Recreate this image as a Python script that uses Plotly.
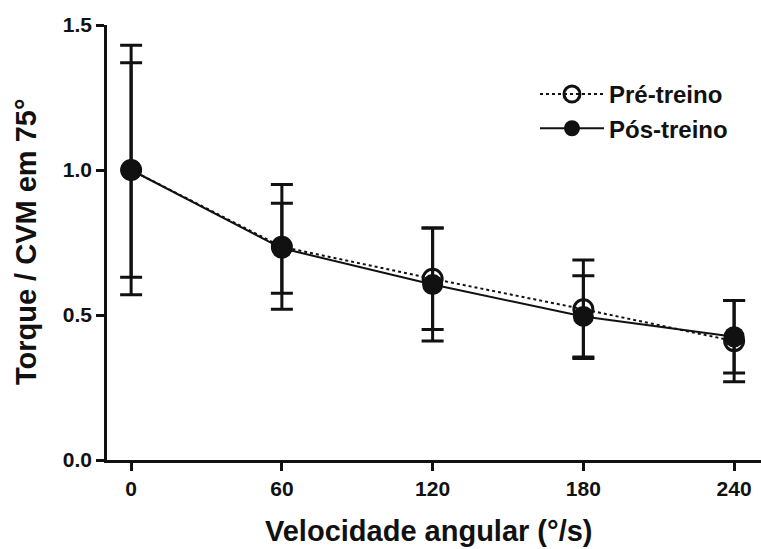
import plotly.graph_objects as go

# Angular velocity (deg/s) and normalised torque (mean ± SD)
speeds = [0, 60, 120, 180, 240]
pre_mean = [1.0, 0.735, 0.625, 0.52, 0.41]
pre_sd = [0.43, 0.215, 0.175, 0.17, 0.14]
post_mean = [1.0, 0.73, 0.605, 0.495, 0.425]
post_sd = [0.37, 0.155, 0.195, 0.14, 0.125]

INK = "#111111"
FONT = "Liberation Sans"

fig = go.Figure()

fig.add_trace(go.Scatter(
    x=speeds, y=pre_mean, name="Pré-treino",
    mode="lines+markers",
    line=dict(color=INK, width=2, dash="dot"),
    marker=dict(symbol="circle-open", size=19, color=INK, line=dict(width=3, color=INK)),
    error_y=dict(type="data", array=pre_sd, visible=True, color=INK, thickness=3, width=11),
))
fig.add_trace(go.Scatter(
    x=speeds, y=post_mean, name="Pós-treino",
    mode="lines+markers",
    line=dict(color=INK, width=2),
    marker=dict(symbol="circle", size=21, color=INK),
    error_y=dict(type="data", array=post_sd, visible=True, color=INK, thickness=3, width=11),
))

fig.update_layout(
    width=761, height=549,
    margin=dict(l=107, r=0, t=25, b=89),
    paper_bgcolor="white", plot_bgcolor="white",
    font=dict(family=FONT, color=INK),
    showlegend=True,
    legend=dict(
        x=0.6544, y=0.892, xanchor="left", yanchor="top",
        font=dict(family=FONT, size=24, color=INK, weight="bold"),
        bgcolor="rgba(0,0,0,0)", tracegroupgap=0, itemwidth=64,
    ),
    xaxis=dict(
        range=[-9.6, 250.7], tickvals=speeds, ticktext=[str(s) for s in speeds],
        showgrid=False, zeroline=False,
        showline=True, linecolor=INK, linewidth=2.5,
        ticks="outside", ticklen=8, tickwidth=2.5, tickcolor=INK,
        tickfont=dict(family=FONT, size=21, color=INK, weight="bold"),
    ),
    yaxis=dict(
        range=[0, 1.5], tickvals=[0, 0.5, 1.0, 1.5], tickformat=".1f",
        showgrid=False, zeroline=False,
        showline=True, linecolor=INK, linewidth=2.5,
        ticks="outside", ticklen=8, tickwidth=2.5, tickcolor=INK,
        tickfont=dict(family=FONT, size=21, color=INK, weight="bold"),
    ),
    annotations=[
        dict(text="Velocidade angular (°/s)", xref="paper", yref="paper",
             x=0.491, y=-0.163, xanchor="center", yanchor="middle", showarrow=False,
             font=dict(family=FONT, size=29, color=INK, weight="bold")),
        dict(text="Torque / CVM em 75°", xref="paper", yref="paper",
             x=-0.124, y=0.503, xanchor="center", yanchor="middle", showarrow=False,
             textangle=-90,
             font=dict(family=FONT, size=29, color=INK, weight="bold")),
    ],
)

fig.write_html("out.html")
